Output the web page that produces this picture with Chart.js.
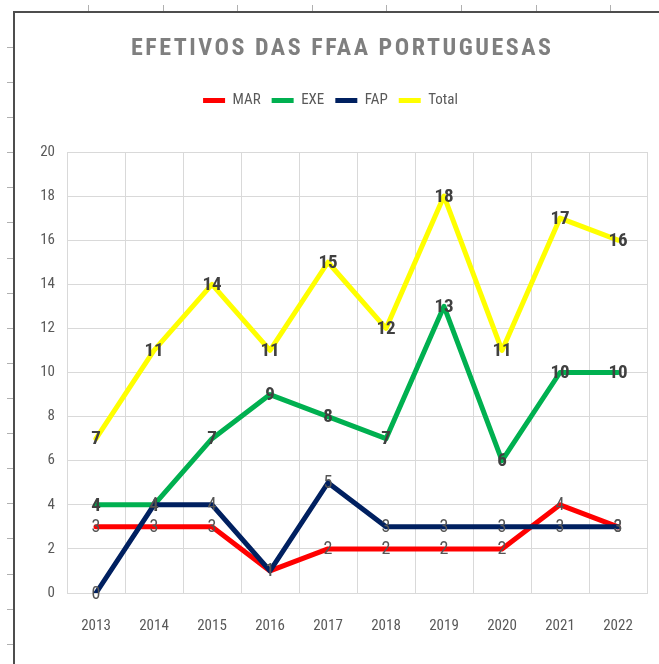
<!DOCTYPE html>
<html>
<head>
<meta charset="utf-8">
<script src="https://cdn.jsdelivr.net/npm/chart.js@4/dist/chart.umd.min.js"></script>
<style>
    html, body { margin: 0; padding: 0; background: #fff; }
    canvas { display: block; }
</style>
</head>
<body>
<canvas id="ffaa-chart" width="659" height="664"></canvas>
<script>
// Dados
const years = ['2013', '2014', '2015', '2016', '2017', '2018', '2019', '2020', '2021', '2022'];
const marValues = [3, 3, 3, 1, 2, 2, 2, 2, 4, 3];
const exeValues = [4, 4, 7, 9, 8, 7, 13, 6, 10, 10];
const fapValues = [0, 4, 4, 1, 5, 3, 3, 3, 3, 3];
const totalValues = [7, 11, 14, 11, 15, 12, 18, 11, 17, 16];
const yMin = 0;
const yMax = 20;
const yStep = 2;

const chartTitle = 'EFETIVOS DAS FFAA PORTUGUESAS';
const FONT = '"Roboto Condensed", Carlito, "Liberation Sans", sans-serif';

// moldura da folha de cálculo + título espaçado
const sheetFrame = {
    id: 'sheetFrame',
    beforeDraw(chart) {
        const ctx = chart.ctx;
        ctx.save();
        ctx.fillStyle = '#ffffff';
        ctx.fillRect(0, 0, chart.width, chart.height);
        ctx.strokeStyle = '#b0b0b0';
        ctx.lineWidth = 1;
        for (let x = 88; x < chart.width; x += 74.6) {
            ctx.beginPath();
            ctx.moveTo(Math.round(x) + 0.5, 5);
            ctx.lineTo(Math.round(x) + 0.5, 12);
            ctx.stroke();
        }
        for (let y = 47; y < chart.height; y += 35.1) {
            ctx.beginPath();
            ctx.moveTo(7, Math.round(y) + 0.5);
            ctx.lineTo(14, Math.round(y) + 0.5);
            ctx.stroke();
        }
        ctx.strokeStyle = '#4d4d4d';
        ctx.lineWidth = 2;
        ctx.beginPath();
        ctx.moveTo(14, chart.height);
        ctx.lineTo(14, 12);
        ctx.lineTo(chart.width, 12);
        ctx.stroke();
        ctx.restore();
    },
    afterDraw(chart) {
        const ctx = chart.ctx;
        ctx.save();
        ctx.font = 'bold 24px ' + FONT;
        ctx.fillStyle = '#7f7f7f';
        ctx.textBaseline = 'middle';
        ctx.textAlign = 'left';
        const plain = ctx.measureText(chartTitle).width;
        const spacing = Math.max(0, (420 - plain) / (chartTitle.length - 1));
        ctx.letterSpacing = spacing + 'px';
        ctx.fillText(chartTitle, 131, 49);
        ctx.restore();
    }
};

// rótulos de dados centrados nos pontos
const valueLabels = {
    id: 'valueLabels',
    afterDatasetsDraw(chart) {
        const ctx = chart.ctx;
        ctx.save();
        ctx.textAlign = 'center';
        ctx.textBaseline = 'middle';
        chart.data.datasets.forEach((ds, i) => {
            const meta = chart.getDatasetMeta(i);
            ctx.font = (ds.labelBold ? 'bold 19px ' : '18px ') + FONT;
            ctx.fillStyle = ds.labelBold ? '#404040' : '#555555';
            meta.data.forEach((pt, j) => {
                ctx.fillText(String(ds.data[j]), pt.x, pt.y + 1);
            });
        });
        ctx.restore();
    }
};

// espaço entre a legenda e a área do gráfico
const legendGap = {
    id: 'legendGap',
    beforeInit(chart) {
        const fit = chart.legend.fit;
        chart.legend.fit = function () {
            fit.bind(chart.legend)();
            this.height += 34;
        };
    }
};

function lineSet(label, data, color, order, bold) {
    return {
        label: label,
        data: data,
        borderColor: color,
        backgroundColor: color,
        borderWidth: 5,
        pointRadius: 0,
        pointHoverRadius: 0,
        tension: 0,
        borderJoinStyle: 'round',
        borderCapStyle: 'round',
        order: order,
        labelBold: bold
    };
}

const ctx = document.getElementById('ffaa-chart').getContext('2d');
new Chart(ctx, {
    type: 'line',
    data: {
        labels: years,
        datasets: [
            lineSet('MAR', marValues, '#ff0000', 4, false),
            lineSet('EXE', exeValues, '#00b050', 3, true),
            lineSet('FAP', fapValues, '#002060', 2, false),
            lineSet('Total', totalValues, '#ffff00', 1, true)
        ]
    },
    options: {
        responsive: false,
        animation: false,
        layout: {
            padding: { top: 82, left: 14, right: 12, bottom: 5 }
        },
        scales: {
            x: {
                offset: true,
                grid: { color: '#d9d9d9', drawTicks: false, offset: true },
                border: { color: '#d9d9d9' },
                ticks: {
                    color: '#595959',
                    padding: 24,
                    maxRotation: 0,
                    font: { family: FONT, size: 15 }
                }
            },
            y: {
                min: yMin,
                max: yMax,
                grid: { color: '#d9d9d9', drawTicks: false },
                border: { color: '#d9d9d9' },
                afterFit(scale) {
                    scale.width = 53;
                },
                ticks: {
                    stepSize: yStep,
                    color: '#595959',
                    padding: 12,
                    font: { family: FONT, size: 15 }
                }
            }
        },
        plugins: {
            title: { display: false },
            tooltip: { enabled: false },
            legend: {
                position: 'top',
                labels: {
                    color: '#595959',
                    boxWidth: 22,
                    boxHeight: 5,
                    padding: 11,
                    font: { family: FONT, size: 15 },
                    generateLabels(chart) {
                        return chart.data.datasets.map((ds, i) => ({
                            text: ds.label,
                            fillStyle: ds.borderColor,
                            strokeStyle: ds.borderColor,
                            lineWidth: 0,
                            fontColor: '#595959',
                            hidden: false,
                            datasetIndex: i
                        }));
                    }
                }
            }
        }
    },
    plugins: [sheetFrame, valueLabels, legendGap]
});
</script>
</body>
</html>
